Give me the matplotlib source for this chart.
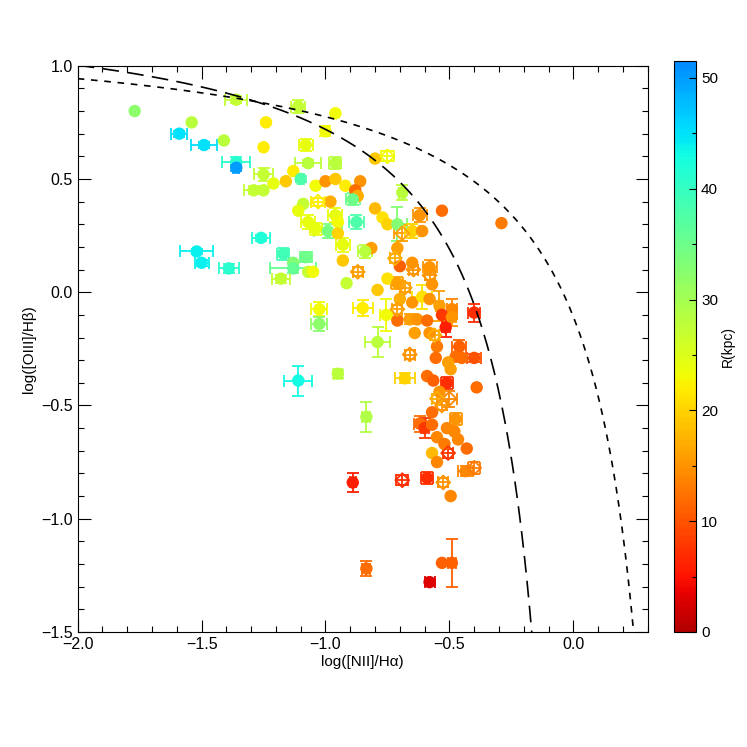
import numpy as np
import matplotlib
matplotlib.use('Agg')
import matplotlib.pyplot as plt
from matplotlib.colors import ListedColormap, Normalize

plt.rcParams['font.family'] = ['Liberation Sans', 'DejaVu Sans']
plt.rcParams['font.size'] = 11

# log([NII]/Ha), log([OIII]/Hb), galactocentric radius (kpc), errors
log_nii = [-1.77, -1.36, -1.11, -0.96, -1.54, -1.24, -1.59, -1.49, -1.41, -1.00,
           -1.25, -1.08, -1.36, -1.36, -1.25, -1.13, -1.07, -0.96, -1.16, -1.10,
           -1.21, -1.29, -1.25, -1.04, -1.00, -0.96, -0.92, -0.86, -0.88, -0.87,
           -1.03, -0.98, -1.09, -1.11, -0.89, -0.80, -0.75, -0.80, -0.77, -0.75,
           -0.69, -0.62, -0.53, -0.29, -0.71, -1.07, -0.96, -0.95, -0.875, -0.99,
           -1.04, -0.95, -0.93, -0.69, -0.65, -0.61, -0.71, -0.72, -0.70, -0.65,
           -0.645, -0.58, -0.58, -0.815, -0.84, -0.93, -0.87, -0.915, -0.75, -0.79,
           -0.71, -0.68, -0.57, -1.26, -1.52, -1.50, -1.39, -1.17, -1.08, -1.13,
           -1.13, -1.18, -1.07, -1.05, -1.025, -1.025, -0.85, -0.79, -1.11, -0.95,
           -0.835, -0.70, -0.65, -0.61, -0.58, -0.54, -0.49, -0.40, -0.71, -0.755,
           -0.71, -0.66, -0.63, -0.59, -0.53, -0.515, -0.49, -0.64, -0.58, -0.56,
           -0.55, -0.46, -0.475, -0.45, -0.40, -0.66, -0.555, -0.505, -0.495, -0.68,
           -0.59, -0.565, -0.51, -0.54, -0.39, -0.50, -0.55, -0.53, -0.57, -0.62,
           -0.60, -0.57, -0.51, -0.475, -0.48, -0.465, -0.55, -0.52, -0.43, -0.505,
           -0.57, -0.55, -0.435, -0.40, -0.69, -0.59, -0.525, -0.495, -0.89, -0.835,
           -0.58, -0.53, -0.49]
log_oiii = [0.80, 0.85, 0.82, 0.79, 0.75, 0.75, 0.70, 0.65, 0.67, 0.71,
            0.64, 0.65, 0.575, 0.55, 0.52, 0.535, 0.57, 0.57, 0.49, 0.50,
            0.48, 0.45, 0.45, 0.47, 0.49, 0.50, 0.47, 0.49, 0.45, 0.425,
            0.40, 0.40, 0.39, 0.36, 0.41, 0.59, 0.60, 0.37, 0.33, 0.30,
            0.44, 0.34, 0.36, 0.305, 0.30, 0.31, 0.34, 0.31, 0.31, 0.27,
            0.28, 0.26, 0.21, 0.26, 0.27, 0.27, 0.195, 0.15, 0.115, 0.13,
            0.10, 0.11, 0.075, 0.195, 0.18, 0.14, 0.09, 0.04, 0.06, 0.01,
            0.04, 0.02, 0.035, 0.24, 0.18, 0.13, 0.105, 0.17, 0.155, 0.13,
            0.105, 0.06, 0.09, 0.09, -0.075, -0.14, -0.07, -0.22, -0.39, -0.36,
            -0.55, -0.03, -0.045, -0.02, -0.03, -0.06, -0.075, -0.09, -0.075, -0.10,
            -0.125, -0.12, -0.12, -0.125, -0.10, -0.155, -0.11, -0.18, -0.18, -0.19,
            -0.24, -0.24, -0.285, -0.29, -0.29, -0.275, -0.29, -0.31, -0.34, -0.38,
            -0.37, -0.39, -0.40, -0.44, -0.42, -0.47, -0.47, -0.50, -0.53, -0.58,
            -0.60, -0.585, -0.60, -0.56, -0.615, -0.65, -0.64, -0.67, -0.69, -0.71,
            -0.71, -0.75, -0.79, -0.775, -0.83, -0.82, -0.84, -0.90, -0.84, -1.22,
            -1.28, -1.195, -1.195]
radius = [32, 27, 27, 23, 28, 22, 45, 45, 28, 23,
          22, 24, 41, 50, 27, 22, 28, 28, 19, 38,
          24, 27, 27, 23, 15, 19, 22, 15, 12, 17,
          22, 17, 27, 24, 35, 19, 23, 18, 21, 20,
          28, 15, 12, 13, 33, 24, 24, 23, 38, 34,
          24, 20, 24, 16, 20, 15, 16, 17, 11, 15,
          15, 15, 15, 16, 28, 19, 16, 27, 21, 19,
          16, 16, 15, 42, 44, 44, 41, 39, 35, 33,
          36, 27, 27, 23, 23, 32, 22, 28, 43, 28,
          29, 17, 15, 21, 15, 16, 14, 7, 16, 23,
          12, 16, 15, 12, 8, 6, 15, 16, 15, 17,
          13, 11, 12, 12, 10, 15, 12, 16, 16, 20,
          12, 11, 7, 15, 12, 14, 17, 15, 12, 12,
          8, 12, 14, 15, 14, 14, 14, 13, 12, 8,
          18, 14, 14, 13, 7, 7, 15, 14, 6, 12,
          3, 11, 11]
err_nii = [0, 0.045, 0.028, 0, 0, 0, 0.032, 0.052, 0, 0.012,
           0, 0.028, 0.056, 0.012, 0.040, 0, 0.052, 0.024, 0, 0.012,
           0, 0.040, 0, 0, 0, 0, 0, 0, 0, 0,
           0.028, 0, 0, 0, 0.028, 0, 0.028, 0, 0, 0,
           0.012, 0.028, 0, 0, 0.040, 0.028, 0.028, 0, 0.032, 0.056,
           0.024, 0, 0.028, 0.032, 0.028, 0, 0, 0.02, 0, 0,
           0.02, 0.028, 0.02, 0, 0.028, 0, 0.02, 0, 0, 0,
           0.024, 0.02, 0, 0.036, 0.068, 0.028, 0.040, 0.024, 0.024, 0,
           0.093, 0.036, 0, 0, 0.032, 0.032, 0.040, 0.052, 0.056, 0.016,
           0.016, 0, 0, 0.040, 0, 0.016, 0.020, 0.024, 0.02, 0.024,
           0, 0.032, 0, 0, 0, 0.016, 0.016, 0, 0, 0.02,
           0, 0.028, 0, 0, 0.028, 0.02, 0, 0, 0, 0.040,
           0, 0, 0.024, 0, 0, 0.032, 0.02, 0.02, 0, 0.024,
           0.016, 0, 0, 0.024, 0, 0, 0, 0, 0, 0.02,
           0, 0, 0.032, 0.024, 0.024, 0.024, 0.02, 0, 0.012, 0.016,
           0.020, 0, 0.016]
err_oiii = [0, 0.015, 0.027, 0, 0, 0, 0.013, 0.013, 0, 0.022,
            0, 0.027, 0.022, 0.013, 0.027, 0, 0.013, 0.027, 0, 0.013,
            0, 0.018, 0, 0, 0, 0, 0, 0, 0, 0,
            0.018, 0, 0, 0, 0.027, 0, 0.022, 0, 0, 0,
            0.035, 0.031, 0, 0, 0.075, 0.031, 0.031, 0, 0.031, 0.031,
            0.027, 0, 0.031, 0.035, 0.031, 0, 0, 0.02, 0, 0,
            0.02, 0.031, 0.02, 0, 0.027, 0, 0.02, 0, 0, 0,
            0.027, 0.02, 0, 0.013, 0.013, 0.013, 0.018, 0.027, 0.022, 0,
            0.018, 0.018, 0, 0, 0.031, 0.031, 0.035, 0.066, 0.066, 0.018,
            0.066, 0, 0, 0.053, 0, 0.066, 0.044, 0.040, 0.02, 0.071,
            0, 0.022, 0, 0, 0, 0.044, 0.040, 0, 0, 0.02,
            0, 0.031, 0, 0, 0.018, 0.02, 0, 0, 0, 0.022,
            0, 0, 0.027, 0, 0, 0.035, 0.02, 0.02, 0, 0.035,
            0.044, 0, 0, 0.027, 0, 0, 0, 0, 0, 0.02,
            0, 0, 0.022, 0.027, 0.022, 0.027, 0.02, 0, 0.044, 0.035,
            0.009, 0, 0.106]
open_diamonds = [30, 36, 53, 57, 60, 62, 66, 71, 98, 109, 115, 125, 126, 127,
                 139, 143, 144, 146]

# Kauffmann et al. (2003) and Kewley et al. (2001) demarcation curves
kauff_a, kauff_b, kauff_c = 0.61, 0.05, 1.30
kewley_a, kewley_b, kewley_c = 0.61, 0.47, 1.19

r_max = 51.5
cmap = ListedColormap(plt.cm.jet(np.linspace(0.955, 0.26, 256)))
norm = Normalize(vmin=0, vmax=r_max)

fig = plt.figure(figsize=(7.47, 7.47), dpi=100)
ax = fig.add_axes([0.104, 0.154, 0.763, 0.758])
cax = fig.add_axes([0.902, 0.154, 0.030, 0.764])

x = np.array(log_nii)
y = np.array(log_oiii)
r = np.array(radius)
is_open = np.zeros(len(x), dtype=bool)
is_open[open_diamonds] = True

for i in range(len(x)):
    if err_nii[i] > 0 or err_oiii[i] > 0:
        ax.errorbar(x[i], y[i], xerr=err_nii[i], yerr=err_oiii[i], fmt='none',
                    ecolor=cmap(norm(r[i])), elinewidth=1.3, capsize=4,
                    capthick=1.3, zorder=2)

sc = ax.scatter(x[~is_open], y[~is_open], c=r[~is_open], cmap=cmap, norm=norm,
                s=80, marker='o', linewidths=0, zorder=3)
ax.scatter(x[is_open], y[is_open], facecolors='none',
           edgecolors=cmap(norm(r[is_open])), s=50, marker='D',
           linewidths=1.3, zorder=3)

xk = np.linspace(-2.0, -0.05, 400)
ax.plot(xk, kauff_a / (xk - kauff_b) + kauff_c, color='black', lw=1.2,
        dashes=(10, 5), zorder=4)
xw = np.linspace(-2.0, 0.3, 400)
ax.plot(xw, kewley_a / (xw - kewley_b) + kewley_c, color='black', lw=1.2,
        dashes=(4, 4), zorder=4)

ax.set_xlim(-2.0, 0.3)
ax.set_ylim(-1.5, 1.0)
ax.set_xticks([-2.0, -1.5, -1.0, -0.5, 0.0])
ax.set_yticks([-1.5, -1.0, -0.5, 0.0, 0.5, 1.0])
ax.set_xticks(np.arange(-2.0, 0.31, 0.1), minor=True)
ax.set_yticks(np.arange(-1.5, 1.01, 0.1), minor=True)
ax.set_xticklabels(['\u22122.0', '\u22121.5', '\u22121.0', '\u22120.5', '0.0'])
ax.set_yticklabels(['\u22121.5', '\u22121.0', '\u22120.5', '0.0', '0.5', '1.0'])
ax.tick_params(which='both', direction='in', top=True, right=True)
ax.tick_params(which='major', length=9, width=0.8, labelsize=11.5)
ax.tick_params(which='minor', length=4.5, width=0.8)
ax.set_xlabel('log([NII]/H\u03b1)', labelpad=2)
ax.set_ylabel('log([OIII]/H\u03b2)', labelpad=4)

cb = fig.colorbar(sc, cax=cax)
cb.set_ticks([0, 10, 20, 30, 40, 50])
cb.ax.set_yticks(np.arange(0, 51, 5), minor=True)
cb.ax.tick_params(which='both', direction='in', width=0.8)
cb.ax.tick_params(which='major', length=5)
cb.ax.tick_params(which='minor', length=3)
cb.set_label('R(kpc)', labelpad=2, fontsize=10)
cb.outline.set_linewidth(0.8)

fig.savefig('out.png', dpi=100)
